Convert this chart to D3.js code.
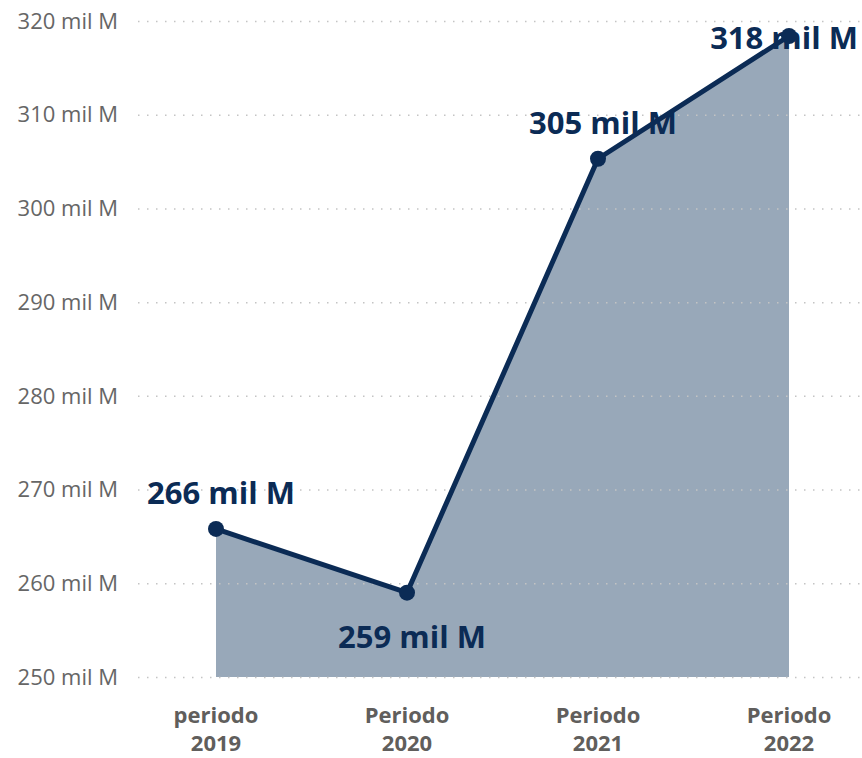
<!DOCTYPE html>
<html>
<head>
<meta charset="utf-8">
<script src="https://cdnjs.cloudflare.com/ajax/libs/d3/7.8.5/d3.min.js"></script>
<style>
  body { margin: 0; background: #fff; }
  svg { display: block; font-family: "Open Sans", "Noto Sans", sans-serif; }
</style>
</head>
<body>
<div id="chart"></div>
<script>
// data
let periodLine1 = ["periodo", "Periodo", "Periodo", "Periodo"];
let periodLine2 = ["2019", "2020", "2021", "2022"];
let values = [265.8, 259.0, 305.3, 318.4];
let yTicks = [250, 260, 270, 280, 290, 300, 310, 320];

let svgWidth = 862;
let svgHeight = 758;
let lineColor = "#0b2b55";
let areaColor = "#98a8b9";

let svg = d3.select("#chart")
    .append("svg")
    .attr("width", svgWidth)
    .attr("height", svgHeight);

let x = d3.scalePoint()
    .domain(periodLine2)
    .range([216, 789]);

let y = d3.scaleLinear()
    .domain([250, 320])
    .range([677, 21]);

let pts = values.map((v, i) => ({ k: periodLine2[i], v: v, i: i }));

// area under the line
let area = d3.area()
    .x(d => x(d.k))
    .y0(y(250))
    .y1(d => y(d.v));
svg.append("path")
    .datum(pts)
    .attr("d", area)
    .attr("fill", areaColor);

// dotted gridlines (drawn over the fill)
svg.append("g")
    .selectAll("line")
    .data(yTicks)
    .enter()
    .append("line")
    .attr("x1", 138)
    .attr("x2", svgWidth)
    .attr("y1", d => y(d) + 0.5)
    .attr("y2", d => y(d) + 0.5)
    .attr("stroke", "#c4c4c4")
    .attr("stroke-width", 1.5)
    .attr("stroke-dasharray", "1.5,7.5");

// y axis labels
svg.append("g")
    .selectAll("text")
    .data(yTicks)
    .enter()
    .append("text")
    .attr("x", 118)
    .attr("y", d => y(d))
    .attr("dy", "0.35em")
    .attr("text-anchor", "end")
    .attr("font-size", 22)
    .attr("fill", "#666666")
    .text(d => d + " mil M");

// x axis labels (two lines)
let xl = svg.append("g")
    .selectAll("text")
    .data(pts)
    .enter()
    .append("text")
    .attr("text-anchor", "middle")
    .attr("font-size", 22)
    .attr("font-weight", "bold")
    .attr("fill", "#605e5c");
xl.append("tspan")
    .attr("x", d => x(d.k))
    .attr("y", 723)
    .text(d => periodLine1[d.i]);
xl.append("tspan")
    .attr("x", d => x(d.k))
    .attr("y", 751)
    .text(d => d.k);

// line
let line = d3.line()
    .x(d => x(d.k))
    .y(d => y(d.v));
svg.append("path")
    .datum(pts)
    .attr("d", line)
    .attr("fill", "none")
    .attr("stroke", lineColor)
    .attr("stroke-width", 5)
    .attr("stroke-linejoin", "round");

// markers
svg.append("g")
    .selectAll("circle")
    .data(pts)
    .enter()
    .append("circle")
    .attr("cx", d => x(d.k))
    .attr("cy", d => y(d.v))
    .attr("r", 8)
    .attr("fill", lineColor);

// data labels: above the point unless the line dips, then below;
// keep inside the chart
let labels = svg.append("g")
    .selectAll("text")
    .data(pts)
    .enter()
    .append("text")
    .attr("font-size", 31)
    .attr("font-weight", "bold")
    .attr("fill", lineColor)
    .attr("text-anchor", "middle")
    .text(d => Math.round(d.v) + " mil M");

labels.each(function(d, i) {
    let t = d3.select(this);
    let px = x(d.k);
    let py = y(d.v);
    let prev = i > 0 ? values[i - 1] : null;
    let by = py - 25;
    if (prev !== null && prev > d.v) by = py + 55;  // local dip: label below
    if (by - 23 < 0) by = py + 13;                   // no room above
    let w = this.getComputedTextLength();
    let cx = px + 5;
    if (cx + w / 2 > svgWidth - 4) cx = svgWidth - 4 - w / 2;
    t.attr("x", cx).attr("y", by);
});
</script>
</body>
</html>
